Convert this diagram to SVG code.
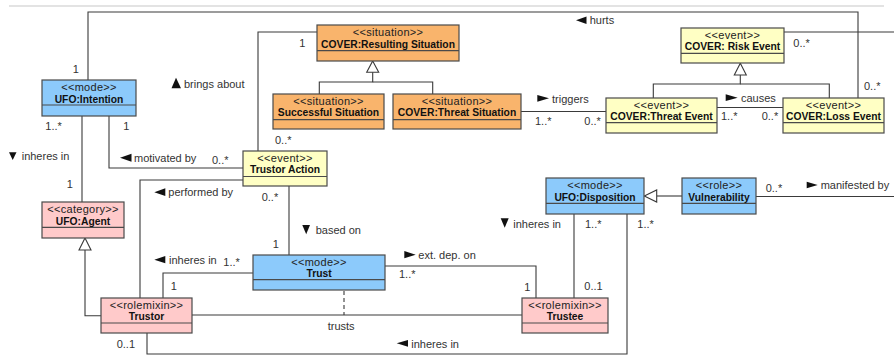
<svg xmlns="http://www.w3.org/2000/svg" width="894" height="356" viewBox="0 0 894 356">
<style>
.box{stroke:#4a4a4a;stroke-width:1.2}
.blue{fill:#8ccafb}.orange{fill:#f9b46c}.yellow{fill:#ffffc4}.pink{fill:#ffcaca}
.div{stroke:#4a4a4a;stroke-width:1.2}
.st{font-family:"Liberation Sans",Arial,sans-serif;font-size:11px;letter-spacing:0.3px;fill:#222;text-anchor:middle}
.nm{font-family:"Liberation Sans",Arial,sans-serif;font-size:10.3px;font-weight:bold;fill:#111;text-anchor:middle}
.ln{fill:none;stroke:#3a3a3a;stroke-width:1.1}
.dash{fill:none;stroke:#3a3a3a;stroke-width:1.1;stroke-dasharray:4,3}
.gen{fill:#fff;stroke:#3a3a3a;stroke-width:1.1}
.lb{font-family:"Liberation Sans",Arial,sans-serif;font-size:11px;fill:#333}
.tri{fill:#111}
</style>
<line x1="9" y1="6" x2="884" y2="6" stroke="#c8c8c8" stroke-width="1.2"/>
<g id="connectors">
<polyline class="ln" points="88,80 88,12 858,12 858,98"/>
<polyline class="ln" points="784,32 894,32"/>
<polyline class="ln" points="258,151 258,32 317,32"/>
<polyline class="ln" points="109,116 109,168 243,168"/>
<polyline class="ln" points="82,116 82,202"/>
<polyline class="ln" points="243,180 140,180 140,298"/>
<polyline class="ln" points="289,186 289,255"/>
<polyline class="ln" points="253,273 163,273 163,298"/>
<polyline class="ln" points="385,266 536,266 536,298"/>
<polyline class="ln" points="192,315 522,315"/>
<polyline class="dash" points="344,291 344,315"/>
<polyline class="ln" points="147,333 147,354 627,354 627,214"/>
<polyline class="ln" points="574,214 574,298"/>
<polyline class="ln" points="756,196.5 894,196.5"/>
<polyline class="ln" points="521,111.5 606,111.5"/>
<polyline class="ln" points="717,107.5 783,107.5"/>
<polyline class="ln" points="372.7,72 372.7,82 319.3,82 319.3,94"/>
<polyline class="ln" points="372.7,82 432.7,82 432.7,94"/>
<polygon class="gen" points="372.7,61 378.7,72.3 366.7,72.3"/>
<polyline class="ln" points="740.3,75 740.3,84 653.3,84 653.3,98"/>
<polyline class="ln" points="740.3,84 829.3,84 829.3,98"/>
<polygon class="gen" points="740.3,63.3 746.3,75 734.3,75"/>
<polyline class="ln" points="101,315.7 85,315.7 85,250"/>
<polygon class="gen" points="85,238 91,250 79,250"/>
<polyline class="ln" points="682,196 656.7,196"/>
<polygon class="gen" points="644.3,196 656.7,190 656.7,202"/>
<polygon class="tri" points="576,20.3 586.5,16.5 586.5,24"/>
<polygon class="tri" points="176,77.7 181,88.3 171.5,88.3"/>
<polygon class="tri" points="120,157.7 131.5,153.7 131.5,161.7"/>
<polygon class="tri" points="9,152.3 16.5,152.3 12.7,160"/>
<polygon class="tri" points="154.3,192.2 165.3,188.3 165.3,196"/>
<polygon class="tri" points="154.3,259.7 165.3,256 165.3,263.3"/>
<polygon class="tri" points="302.3,225 310,225 306.2,234.3"/>
<polygon class="tri" points="404.3,251 404.3,258.3 415.7,254.7"/>
<polygon class="tri" points="500.7,218.3 508.7,218.3 504.7,227.7"/>
<polygon class="tri" points="396.7,343.3 408,340 408,346.7"/>
<polygon class="tri" points="537.3,95 537.3,101.7 549,98.3"/>
<polygon class="tri" points="725.7,94.3 725.7,101 737.7,97.7"/>
<polygon class="tri" points="806.7,181.7 806.7,188.3 817.7,185"/>
<text class="lb" x="589.7" y="24">hurts</text>
<text class="lb" x="184" y="88">brings about</text>
<text class="lb" x="134" y="162">motivated by</text>
<text class="lb" x="21.7" y="160">inheres in</text>
<text class="lb" x="168.3" y="196">performed by</text>
<text class="lb" x="169" y="264">inheres in</text>
<text class="lb" x="315.7" y="234">based on</text>
<text class="lb" x="418.3" y="258.5">ext. dep. on</text>
<text class="lb" x="513.3" y="228">inheres in</text>
<text class="lb" x="411.3" y="347.5">inheres in</text>
<text class="lb" x="327.7" y="330">trusts</text>
<text class="lb" x="552" y="103">triggers</text>
<text class="lb" x="741" y="102">causes</text>
<text class="lb" x="820.7" y="189">manifested by</text>
<text class="lb" x="72.7" y="73">1</text>
<text class="lb" x="45.3" y="130">1..*</text>
<text class="lb" x="123.3" y="130">1</text>
<text class="lb" x="212" y="164">0..*</text>
<text class="lb" x="275" y="144">0..*</text>
<text class="lb" x="299.3" y="47">1</text>
<text class="lb" x="66.7" y="188">1</text>
<text class="lb" x="261.7" y="201">0..*</text>
<text class="lb" x="272.7" y="248">1</text>
<text class="lb" x="223.3" y="266">1..*</text>
<text class="lb" x="170.7" y="290">1</text>
<text class="lb" x="116.7" y="348">0..1</text>
<text class="lb" x="399" y="278">1..*</text>
<text class="lb" x="524.3" y="291">1</text>
<text class="lb" x="585" y="228">1..*</text>
<text class="lb" x="584.3" y="290">0..1</text>
<text class="lb" x="637.3" y="228">1..*</text>
<text class="lb" x="765.7" y="192">0..*</text>
<text class="lb" x="535" y="125">1..*</text>
<text class="lb" x="584.3" y="125">0..*</text>
<text class="lb" x="721" y="120">1..*</text>
<text class="lb" x="761.7" y="120">0..*</text>
<text class="lb" x="793.3" y="47">0..*</text>
<text class="lb" x="864" y="90">0..*</text>
</g>
<g id="intention">
<rect class="box blue" x="42" y="80" width="94" height="36"/>
<line class="div" x1="42" y1="105" x2="136" y2="105"/>
<text class="st" x="89" y="91">&lt;&lt;mode&gt;&gt;</text>
<text class="nm" x="89" y="102.5">UFO:Intention</text>
</g>
<g id="resulting-situation">
<rect class="box orange" x="317" y="25" width="142" height="36"/>
<line class="div" x1="317" y1="50.7" x2="459" y2="50.7"/>
<text class="st" x="388" y="36">&lt;&lt;situation&gt;&gt;</text>
<text class="nm" x="388" y="47.5">COVER:Resulting Situation</text>
</g>
<g id="successful-situation">
<rect class="box orange" x="273" y="94" width="111" height="35"/>
<line class="div" x1="273" y1="119.7" x2="384" y2="119.7"/>
<text class="st" x="328.5" y="104.5">&lt;&lt;situation&gt;&gt;</text>
<text class="nm" x="328.5" y="116">Successful Situation</text>
</g>
<g id="threat-situation">
<rect class="box orange" x="393" y="94" width="128" height="35"/>
<line class="div" x1="393" y1="119.7" x2="521" y2="119.7"/>
<text class="st" x="457" y="104.5">&lt;&lt;situation&gt;&gt;</text>
<text class="nm" x="457" y="116">COVER:Threat Situation</text>
</g>
<g id="trustor-action">
<rect class="box yellow" x="243" y="151" width="84" height="35"/>
<line class="div" x1="243" y1="176.5" x2="327" y2="176.5"/>
<text class="st" x="285" y="161.5">&lt;&lt;event&gt;&gt;</text>
<text class="nm" x="285" y="173">Trustor Action</text>
</g>
<g id="risk-event">
<rect class="box yellow" x="681" y="28" width="103" height="35"/>
<line class="div" x1="681" y1="53.3" x2="784" y2="53.3"/>
<text class="st" x="732.5" y="38.5">&lt;&lt;event&gt;&gt;</text>
<text class="nm" x="732.5" y="50">COVER: Risk Event</text>
</g>
<g id="threat-event">
<rect class="box yellow" x="606" y="98" width="111" height="35"/>
<line class="div" x1="606" y1="122.7" x2="717" y2="122.7"/>
<text class="st" x="661.5" y="108.5">&lt;&lt;event&gt;&gt;</text>
<text class="nm" x="661.5" y="120">COVER:Threat Event</text>
</g>
<g id="loss-event">
<rect class="box yellow" x="783" y="98" width="101" height="35"/>
<line class="div" x1="783" y1="122.7" x2="884" y2="122.7"/>
<text class="st" x="833.5" y="108.5">&lt;&lt;event&gt;&gt;</text>
<text class="nm" x="833.5" y="120">COVER:Loss Event</text>
</g>
<g id="agent">
<rect class="box pink" x="42" y="202" width="82" height="36"/>
<line class="div" x1="42" y1="227.3" x2="124" y2="227.3"/>
<text class="st" x="83" y="213">&lt;&lt;category&gt;&gt;</text>
<text class="nm" x="83" y="224.5">UFO:Agent</text>
</g>
<g id="trustor">
<rect class="box pink" x="101" y="298" width="91" height="35"/>
<line class="div" x1="101" y1="323" x2="192" y2="323"/>
<text class="st" x="146.5" y="308.5">&lt;&lt;rolemixin&gt;&gt;</text>
<text class="nm" x="146.5" y="320">Trustor</text>
</g>
<g id="trust">
<rect class="box blue" x="253" y="255" width="132" height="35"/>
<line class="div" x1="253" y1="279.7" x2="385" y2="279.7"/>
<text class="st" x="319" y="265.5">&lt;&lt;mode&gt;&gt;</text>
<text class="nm" x="319" y="277">Trust</text>
</g>
<g id="trustee">
<rect class="box pink" x="522" y="298" width="86" height="35"/>
<line class="div" x1="522" y1="323" x2="608" y2="323"/>
<text class="st" x="565" y="308.5">&lt;&lt;rolemixin&gt;&gt;</text>
<text class="nm" x="565" y="320">Trustee</text>
</g>
<g id="disposition">
<rect class="box blue" x="546" y="178" width="98" height="36"/>
<line class="div" x1="546" y1="203.3" x2="644" y2="203.3"/>
<text class="st" x="595" y="189">&lt;&lt;mode&gt;&gt;</text>
<text class="nm" x="595" y="200.5">UFO:Disposition</text>
</g>
<g id="vulnerability">
<rect class="box blue" x="682" y="178" width="74" height="36"/>
<line class="div" x1="682" y1="203.3" x2="756" y2="203.3"/>
<text class="st" x="719" y="189">&lt;&lt;role&gt;&gt;</text>
<text class="nm" x="719" y="200.5">Vulnerability</text>
</g>
</svg>
